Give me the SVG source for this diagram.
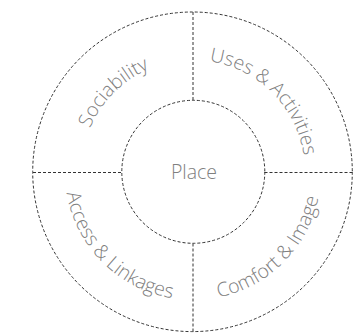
<svg xmlns="http://www.w3.org/2000/svg" width="354" height="336" viewBox="0 0 354 336">
<style>
.d{fill:none;stroke:#333;stroke-width:1;stroke-dasharray:3 2}
.t{font-family:"Open Sans","Noto Sans",sans-serif;font-weight:300;font-size:19.5px;fill:#808080}
</style>
<defs>
<path id="pSoc" d="M81,172 A112,112 0 0 1 193,60"/>
<path id="pUse" d="M193,60 A112,112 0 0 1 305,172"/>
<path id="pAcc" d="M65,172 A128,128 0 0 0 193,300"/>
<path id="pCom" d="M193,300 A128,128 0 0 0 321,172"/>
</defs>
<rect width="354" height="336" fill="#fff"/>
<g id="connectors">
<line class="d" x1="193" y1="12" x2="193" y2="100.5"/>
<line class="d" x1="193" y1="243.5" x2="193" y2="332"/>
<line class="d" x1="33" y1="172.5" x2="121.5" y2="172.5"/>
<line class="d" x1="264.5" y1="172.5" x2="352" y2="172.5"/>
</g>
<g id="ring">
<circle class="d" cx="192.5" cy="171.8" r="159.8"/>
</g>
<g id="place">
<circle class="d" cx="193.3" cy="171.8" r="71.5"/>
<text class="t" x="194" y="178.5" text-anchor="middle">Place</text>
</g>
<g id="sociability">
<text class="t" text-anchor="middle"><textPath href="#pSoc" startOffset="50%">Sociability</textPath></text>
</g>
<g id="uses">
<text class="t" text-anchor="middle"><textPath href="#pUse" startOffset="50%">Uses &amp; Activities</textPath></text>
</g>
<g id="access">
<text class="t" text-anchor="middle"><textPath href="#pAcc" startOffset="50%">Access &amp; Linkages</textPath></text>
</g>
<g id="comfort">
<text class="t" text-anchor="middle"><textPath href="#pCom" startOffset="50%">Comfort &amp; Image</textPath></text>
</g>
</svg>
